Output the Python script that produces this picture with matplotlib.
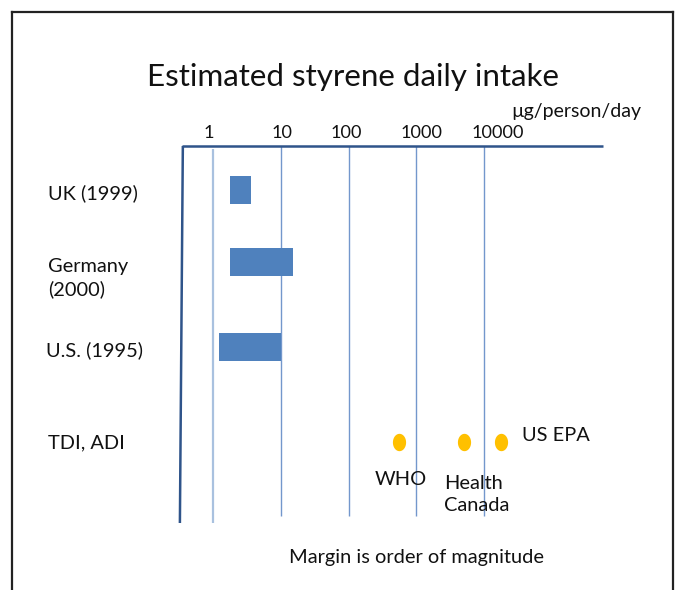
import numpy as np
import matplotlib
matplotlib.use("Agg")
import matplotlib.pyplot as plt
import matplotlib.transforms as mtransforms
from matplotlib.path import Path
from matplotlib.lines import Line2D

plt.rcParams['font.family'] = ['Lato', 'DejaVu Sans']

# ---------------- data ----------------
title = "Estimated styrene daily intake"
unit_label = "µg/person/day"
tick_values = [1, 10, 100, 1000, 10000]
tick_labels = ["1", "10", "100", "1000", "10000"]
row_labels = ["UK (1999)", "Germany\n(2000)", "U.S. (1995)", "TDI, ADI"]
intake_low = [1.8, 1.8, 1.25]
intake_high = [3.7, 15, 10]
limit_names = ["WHO", "Health\nCanada", "US EPA"]
limit_values = [560, 5000, 17500]
footnote = "Margin is order of magnitude"

# ---------------- layout ----------------
W, H, DPI = 678, 590, 100
fig = plt.figure(figsize=(W / DPI, H / DPI), dpi=DPI)
T = mtransforms.Affine2D().scale(1, -1).translate(0, H)  # pixel coords, y down

# axes region in pixels
ax_l, ax_r, ax_t, ax_b = 182, 603, 146, 523
ax = fig.add_axes([ax_l / W, 1 - ax_b / H, (ax_r - ax_l) / W, (ax_b - ax_t) / H])
ax.set_xscale('log')
dec_px = 67.9
x1_px = 212.7
ax.set_xlim(10 ** ((ax_l - x1_px) / dec_px), 10 ** ((ax_r - x1_px) / dec_px))
row_unit = 72.0
row0_px = 190
ax.set_ylim((ax_b - row0_px) / row_unit, (ax_t - row0_px) / row_unit)
row_pos = [0, 1, 2.18, 3.5]
for s in ax.spines.values():
    s.set_visible(False)
ax.set_xticks([])
ax.set_yticks([])
ax.minorticks_off()
ax.patch.set_alpha(0)

# grid lines
ax.vlines(tick_values[:1], (149 - row0_px) / row_unit, (523 - row0_px) / row_unit,
          color='#a9c1df', lw=1.6, zorder=1)
ax.vlines(tick_values[1:], (ax_t - row0_px) / row_unit, (516 - row0_px) / row_unit,
          color='#7397cc', lw=1.0, zorder=1)

# frame lines (top and slanted left)
ax.plot([0, 1], [1, 1], transform=ax.transAxes, color='#2f548a', lw=1.8,
        clip_on=False, zorder=3, solid_capstyle='butt')
ax.plot([0.002, -0.005], [1, 0], transform=ax.transAxes, color='#2f548a', lw=1.8,
        clip_on=False, zorder=3, solid_capstyle='butt')

# bars
lows = np.array(intake_low)
highs = np.array(intake_high)
ax.barh(row_pos[:3], highs - lows, left=lows, height=0.39, color='#4f81bd', zorder=2)

# ellipse marker
th = np.linspace(0, 2 * np.pi, 60)
ell = Path(np.column_stack([np.cos(th) * 0.76, np.sin(th)]))
ax.plot(limit_values, [row_pos[3]] * len(limit_values), linestyle='none',
        marker=ell, markersize=12.5, color='#ffc000', markeredgewidth=0, zorder=3)

# ---------------- text ----------------
renderer = fig.canvas.get_renderer()

def fit(t, width):
    w = t.get_window_extent(renderer).width
    t.set_fontsize(t.get_fontsize() * width / w)

# title
tt = fig.text(353, 86, title, transform=T, ha='center', va='baseline', fontsize=20, color='#111111')
fit(tt, 414)

# unit
ut = fig.text(511, 117, unit_label, transform=T, ha='left', va='baseline', fontsize=12, color='#111111')
fit(ut, 129)

# tick labels
blend = mtransforms.blended_transform_factory(ax.transData, T)
nudges = [-3.7, 1.3, -2, 5.3, 13.7]
tick_texts = []
for v, lab, dx in zip(tick_values, tick_labels, nudges):
    tr = mtransforms.offset_copy(blend, fig=fig, x=dx, y=0, units='dots')
    tick_texts.append(ax.text(v, 138, lab, transform=tr, ha='center', va='baseline',
                              fontsize=13, color='#111111'))
fit(tick_texts[-1], 52)
for t in tick_texts:
    t.set_fontsize(tick_texts[-1].get_fontsize())

# footnote sets body size
ft = fig.text(289.3, 563, footnote, transform=T, ha='left', va='baseline', fontsize=12, color='#111111')
fit(ft, 254)
body = ft.get_fontsize()

# (positions give the baseline of the last line)
row_label_pos = [(48.3, 199), (48.3, 295), (46, 356), (48.3, 448)]
for lab, (x, y) in zip(row_labels, row_label_pos):
    fig.text(x, y, lab, transform=T, ha='left', va='baseline', fontsize=body,
             color='#111111', linespacing=1.32)

limit_label_pos = [(375, 485), (444, 510.7), (522, 440.7)]
for lab, (x, y) in zip(limit_names, limit_label_pos):
    fig.text(x, y, lab, transform=T, ha='left', va='baseline', fontsize=body,
             color='#111111', linespacing=1.32)

# slide border
for xs, ys in [([12, 12], [12, H + 5]), ([12, 673], [12, 12]), ([673, 673], [12, H + 5])]:
    fig.add_artist(Line2D(xs, ys, transform=T, color='#222222', lw=1.6))

fig.savefig("out.png", dpi=DPI)
